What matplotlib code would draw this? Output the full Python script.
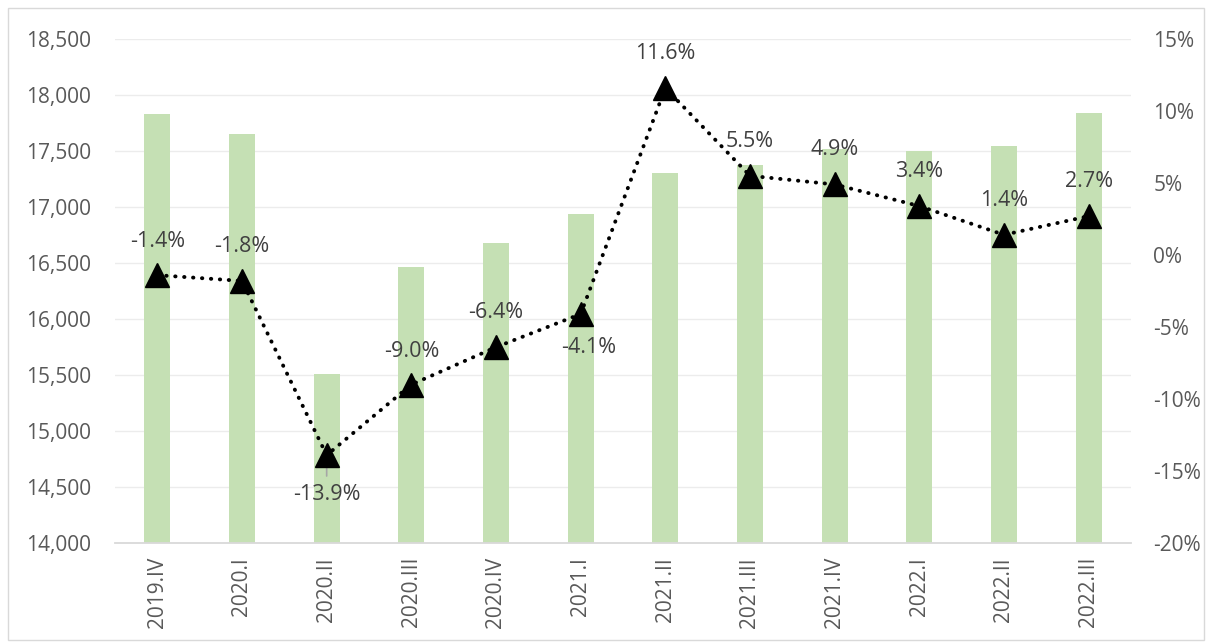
import matplotlib.pyplot as plt
from matplotlib.ticker import FuncFormatter, MultipleLocator

plt.rcParams['font.family'] = ['Open Sans', 'DejaVu Sans']

quarters = ["2019.IV", "2020.I", "2020.II", "2020.III", "2020.IV", "2021.I",
            "2021.II", "2021.III", "2021.IV", "2022.I", "2022.II", "2022.III"]
bar_values = [17830, 17650, 15510, 16460, 16680, 16935,
              17305, 17375, 17520, 17500, 17545, 17840]
growth = [-1.4, -1.8, -13.9, -9.0, -6.4, -4.1, 11.6, 5.5, 4.9, 3.4, 1.4, 2.7]
growth_labels = ["-1.4%", "-1.8%", "-13.9%", "-9.0%", "-6.4%", "-4.1%",
                 "11.6%", "5.5%", "4.9%", "3.4%", "1.4%", "2.7%"]
# label offsets in points (dx, dy)
label_offsets = [(0, 24), (0, 25), (0, -28), (0, 24), (0, 25), (6, -24),
                 (0, 25), (0, 25), (0, 25), (0, 25), (0, 25), (0, 25)]

text_color = "#595959"
fig = plt.figure(figsize=(12.08, 6.42), dpi=100)
ax = fig.add_axes([115 / 1208, 1 - 543 / 642, 1016 / 1208, 504 / 642])

x = list(range(len(quarters)))
ax.bar(x, bar_values, width=0.31, color="#c5e0b4", zorder=2)
ax.set_ylim(14000, 18500)
ax.set_xlim(-0.5, len(quarters) - 0.5)
ax.yaxis.set_major_locator(MultipleLocator(500))
ax.yaxis.set_major_formatter(FuncFormatter(lambda v, p: f"{int(v):,}"))
ax.grid(axis="y", color="#ececec", linewidth=1, zorder=0)
ax.set_axisbelow(True)
ax.set_xticks(x)
ax.set_xticklabels(quarters, rotation=90)
for s in ["top", "right", "left"]:
    ax.spines[s].set_visible(False)
ax.spines["bottom"].set_color("#d9d9d9")
ax.spines["bottom"].set_linewidth(1.3)
ax.tick_params(axis="both", length=0, labelsize=15, colors=text_color)
ax.tick_params(axis="y", pad=17)
ax.tick_params(axis="x", pad=10)

ax2 = ax.twinx()
ax2.set_ylim(-20, 15)
ax2.yaxis.set_major_locator(MultipleLocator(5))
ax2.yaxis.set_major_formatter(FuncFormatter(lambda v, p: f"{int(v)}%"))
for s in ["top", "right", "left", "bottom"]:
    ax2.spines[s].set_visible(False)
ax2.tick_params(axis="y", length=0, labelsize=15, colors=text_color, pad=16)
ax2.plot(x, growth, color="black", linewidth=2.8, linestyle=(0, (0.1, 2.2)),
         dash_capstyle="round", marker="^", markersize=17, zorder=5)

for i in x:
    dx, dy = label_offsets[i]
    ax2.annotate(growth_labels[i], (i, growth[i]), xytext=(dx, dy),
                 textcoords="offset points", ha="center", va="center",
                 fontsize=15.5, color="#404040", zorder=6)
# leader line for the -13.9% label
ax2.annotate("", (2, growth[2]), xytext=(0, -17), textcoords="offset points",
             arrowprops=dict(arrowstyle="-", color="#a6a6a6", lw=1.2), zorder=4)

fig.add_artist(plt.Rectangle((8 / 1208, 2 / 642), 1196 / 1208, 632 / 642,
                             fill=False, edgecolor="#d9d9d9", linewidth=1,
                             transform=fig.transFigure))

fig.savefig("out.png", dpi=100)
